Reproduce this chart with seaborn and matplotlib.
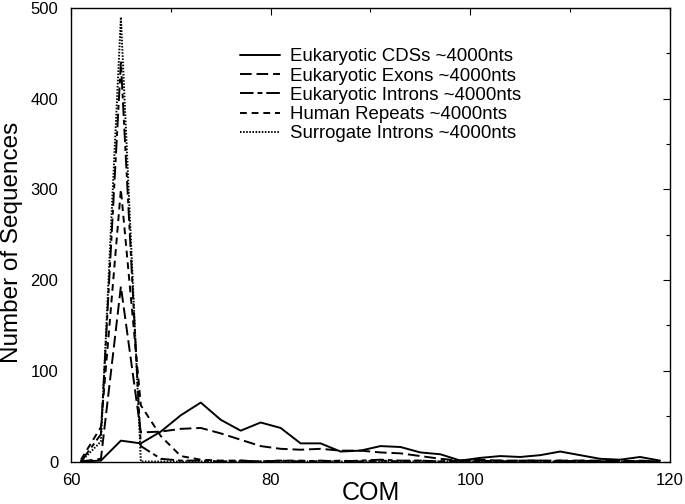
import pandas as pd
import numpy as np
import seaborn as sns
import matplotlib.pyplot as plt
from matplotlib.ticker import MultipleLocator

# COM bins (odd values, 2 units wide)
com = [61, 63, 65, 67, 69, 71, 73, 75, 77, 79, 81, 83, 85, 87, 89,
       91, 93, 95, 97, 99, 101, 103, 105, 107, 109, 111, 113, 115, 117, 119]

cds = [0, 1, 23, 20, 33, 51, 65, 46, 34, 43, 37, 20, 20, 11, 12,
       17, 16, 10, 8, 1, 4, 6, 5, 7, 11, 7, 3, 2, 5, 1]
exons = [0, 3, 193, 32, 33, 36, 37, 31, 24, 17, 14, 13, 14, 12, 12,
         10, 9, 6, 3, 1, 2, 1, 1, 1, 1, 1, 1, 0, 1, 0]
introns = [0, 30, 440, 17, 3, 1, 1, 0, 1, 0, 1, 0, 1, 0, 1,
           2, 1, 1, 0, 1, 1, 0, 1, 1, 0, 1, 0, 1, 0, 0]
repeats = [2, 38, 300, 62, 28, 6, 2, 1, 1, 0, 1, 1, 0, 1, 0,
           1, 0, 1, 0, 1, 0, 1, 0, 0, 1, 0, 0, 1, 0, 0]
surrogate = [0, 22, 490, 0, 0, 0, 0, 0, 0, 0, 0, 0, 0, 0, 0,
             0, 0, 0, 0, 0, 0, 0, 0, 0, 0, 0, 0, 0, 0, 0]

labels = ['Eukaryotic CDSs ~4000nts', 'Eukaryotic Exons ~4000nts',
          'Eukaryotic Introns ~4000nts', 'Human Repeats ~4000nts',
          'Surrogate Introns ~4000nts']

frames = []
for name, vals in zip(labels, [cds, exons, introns, repeats, surrogate]):
    frames.append(pd.DataFrame({'COM': com, 'count': vals, 'series': name}))
df = pd.concat(frames, ignore_index=True)

sns.set_style('white')
plt.rcParams['font.family'] = ['Liberation Sans', 'DejaVu Sans']
plt.rcParams['text.color'] = 'black'
plt.rcParams['axes.labelcolor'] = 'black'

fig = plt.figure(figsize=(6.85, 5.04), dpi=100)
ax = fig.add_axes([0.1036, 0.0843, 0.8745, 0.8999])

dash_map = {
    labels[0]: '',
    labels[1]: (6, 2.5),
    labels[2]: (7, 2, 2.5, 2),
    labels[3]: (3.5, 2.5),
    labels[4]: (0.8, 0.8),
}
sns.lineplot(data=df, x='COM', y='count', style='series', dashes=dash_map,
             color='black', linewidth=1.4, ax=ax)

ax.set_xlim(60, 120)
ax.set_ylim(0, 500)
ax.xaxis.set_major_locator(MultipleLocator(20))
ax.xaxis.set_minor_locator(MultipleLocator(10))
ax.yaxis.set_major_locator(MultipleLocator(100))
ax.yaxis.set_minor_locator(MultipleLocator(50))
ax.tick_params(which='both', direction='in', top=True, right=True,
               labelsize=12, colors='black', labelcolor='black')
ax.tick_params(which='major', length=5, width=0.8)
ax.tick_params(which='minor', length=3, width=0.8)
ax.tick_params(axis='x', pad=8)
ax.tick_params(axis='y', pad=9)
for sp in ax.spines.values():
    sp.set_color('black')
    sp.set_linewidth(1.0)

ax.set_xlabel('COM', fontsize=18)
ax.set_ylabel('Number of Sequences', fontsize=17.5)
ax.xaxis.set_label_coords(0.5, -0.042)
ax.yaxis.set_label_coords(-0.08, 0.484)

sns.move_legend(ax, loc='upper left', bbox_to_anchor=(0.255, 0.948),
                title=None, frameon=False, fontsize=13.4, handlelength=2.1,
                labelspacing=0.12, handletextpad=0.55)

fig.savefig('out.png', dpi=100)
